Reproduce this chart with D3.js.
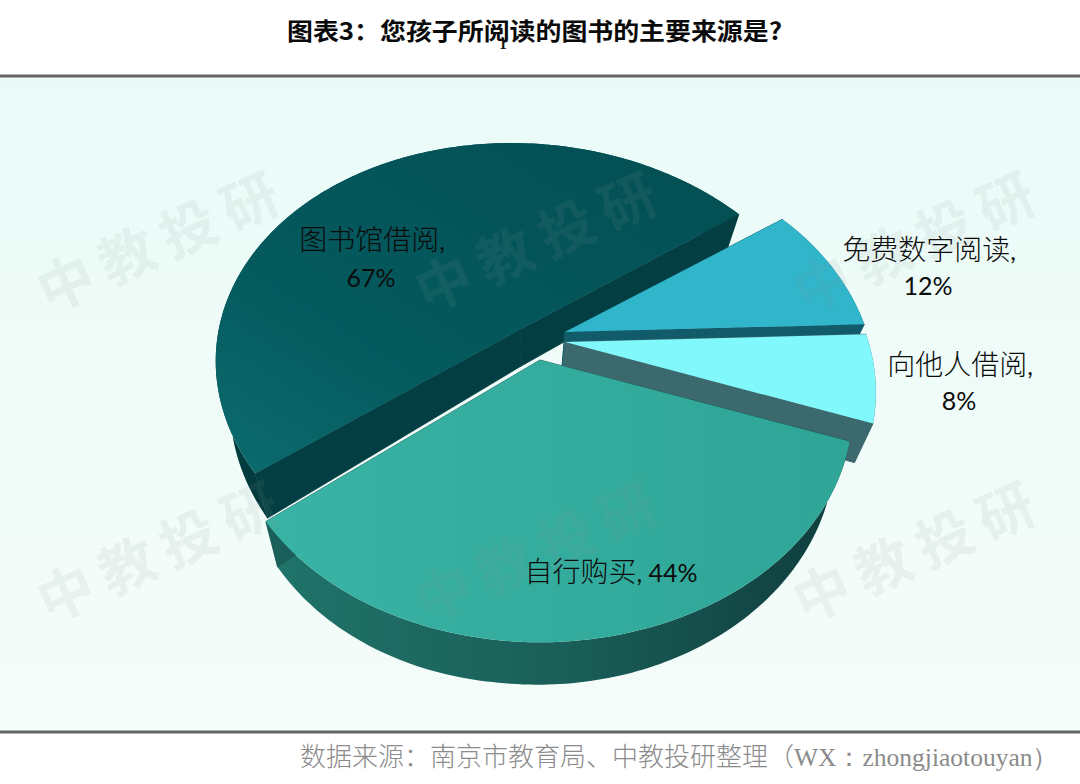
<!DOCTYPE html>
<html><head><meta charset="utf-8">
<script src="https://cdn.jsdelivr.net/npm/d3@7"></script>
<style>html,body{margin:0;padding:0;background:#fff}svg{display:block}</style></head>
<body><svg id="c" width="1080" height="784"></svg>
<script>
const categories = ["免费数字阅读","向他人借阅","自行购买","图书馆借阅"];
const values = [12,8,44,67];
const titleText = "图表3：您孩子所阅读的图书的主要来源是?";
const sourceCn = "数据来源：南京市教育局、中教投研整理（";
const sourceWx = "WX：zhongjiaotouyan）";
const watermark = "中教投研";

const svg = d3.select("#c");
const defs = svg.append("defs");
function grad(id, stops, x1=0,y1=0,x2=1,y2=0){
  const g = defs.append("linearGradient").attr("id",id).attr("x1",x1).attr("y1",y1).attr("x2",x2).attr("y2",y2);
  stops.forEach(([o,c])=>g.append("stop").attr("offset",o).attr("stop-color",c));
}
grad("bg",[[0,"#eafbf7"],[1,"#f5fcfa"]],0,0,0,1);
grad("topDark",[[0,"#0b6b6e"],[0.35,"#045a5e"],[1,"#034e53"]],0,1,1,0);
grad("topTeal",[[0,"#39b3a5"],[1,"#2ea596"]]);
grad("wallTeal",[[0,"#1f7469"],[0.5,"#1a5f59"],[1,"#0f3c3d"]]);
grad("wallDark",[[0,"#02383b"],[1,"#045054"]],0,1,0,0);
const skin = [
  {top:"#30b5cb",cut:"#125b6b",wall:"#125b6b"},
  {top:"#80f8fc",cut:"#3b696d",wall:"#3b696d"},
  {top:"url(#topTeal)",cut:"#1a5f59",wall:"url(#wallTeal)"},
  {top:"url(#topDark)",cut:"#033f42",wall:"url(#wallDark)"}
];
// per-slice placement of the exploded wedges
const apex  = [[565,332],[565,342],[540,360],[521,321]];
const hub   = [[565,332],[565,342],[540,360],[521,329]];
const sx    = [0.99,0.995,1,0.985];
const sy    = [1,1,1,0.98];
const shear = [5,0,0,12];
const turn  = [0,0,0,1.5].map(d=>d*Math.PI/180);
const drawOrder = [3,0,1,2];

// frame
svg.append("rect").attr("x",0).attr("y",77).attr("width",1080).attr("height",654).attr("fill","url(#bg)");
svg.append("line").attr("x1",0).attr("x2",1080).attr("y1",76).attr("y2",76).attr("stroke","#666").attr("stroke-width",3);
svg.append("line").attr("x1",0).attr("x2",1080).attr("y1",732).attr("y2",732).attr("stroke","#666").attr("stroke-width",3);

// projection of the pie plane
const A=305,B=221,P=0.217;
function proj(i,a0){
  const a=a0+turn[i], u=Math.sin(a),v=-Math.cos(a),s=1/(1-P*v);
  return [apex[i][0]+(A*sx[i]*u+shear[i]*v)*s, apex[i][1]+B*sy[i]*v*s];
}
function drop(p){ // lower face: converges towards a vanishing point
  return [p[0]-(p[0]-500)*0.05, p[1]+36+0.015*(p[1]-212)+Math.max(0,500-p[0])*0.02];
}
const line = d3.line();
const pie = d3.pie().sort(null).value(d=>d).startAngle(55*Math.PI/180).endAngle(415*Math.PI/180);
const arcs = pie(values);

const g = svg.append("g");
drawOrder.forEach(i=>{
  const d=arcs[i], n=Math.ceil((d.endAngle-d.startAngle)*60);
  const pts=d3.range(n+1).map(k=>proj(i,d.startAngle+(d.endAngle-d.startAngle)*k/n));
  const c=hub[i], c2=drop(c), st=skin[i];
  const gs=g.append("g");
  gs.append("path").attr("d",line(pts.concat(pts.map(drop).reverse()))+"Z").attr("fill",st.wall);
  [pts[0],pts[n]].forEach(e=>{
    gs.append("path").attr("d",line([c,e,drop(e),c2])+"Z").attr("fill",st.cut).attr("stroke",st.cut).attr("stroke-width",0.8);
  });
  gs.append("path").attr("d",line([c].concat(pts))+"Z").attr("fill",st.top);
});

// watermarks
[[165,245],[543,245],[921,245],[165,555],[543,555],[921,555]].forEach(([x,y])=>{
  svg.append("text").attr("transform",`translate(${x},${y}) rotate(-24)`)
    .attr("text-anchor","middle").attr("dominant-baseline","middle")
    .attr("font-family","Noto Sans CJK SC").attr("font-weight",700).attr("font-size",56)
    .attr("letter-spacing",11).attr("fill","#8a9a98").attr("fill-opacity",0.11).text(watermark);
});

// labels
const lab = svg.append("g").attr("font-family","'Noto Sans CJK SC'").attr("font-weight",300).attr("font-size",28).attr("fill","#0c0c0c").attr("text-anchor","middle");
const pct = i=>values[i]+"%";
function label(x,y,cat,pctText){
  const t=lab.append("text").attr("x",x).attr("y",y);
  t.append("tspan").text(cat);
  t.append("tspan").attr("font-family","Lato").attr("font-weight",400).attr("font-size",25).text(pctText);
}
label(372,250,categories[3],",");
label(371,287,"",pct(3));
label(929,260,categories[0],",");
label(928,295,"",pct(0));
label(960,375,categories[1],",");
label(959,410,"",pct(1));
label(611,582,categories[2],", "+pct(2));

// title
svg.append("text").attr("x",287).attr("y",40).attr("font-family","'Noto Sans CJK SC'").attr("font-weight",700).attr("font-size",24)
  .attr("fill","#0a0a0a").attr("textLength",495).attr("lengthAdjust","spacingAndGlyphs").text(titleText);
svg.append("text").attr("x",503).attr("y",49).attr("text-anchor","middle").attr("font-family","Liberation Serif").attr("font-weight",700).attr("font-size",15).attr("fill","#111").text("1");

// source
const sc=svg.append("text").attr("x",300).attr("y",766).attr("font-size",26).attr("fill","#8b8b8b");
sc.append("tspan").attr("font-family","'Noto Sans CJK SC'").attr("font-weight",300).text(sourceCn);
sc.append("tspan").attr("font-family","'Liberation Serif'").attr("font-size",25.5).text(sourceWx);
</script></body></html>
